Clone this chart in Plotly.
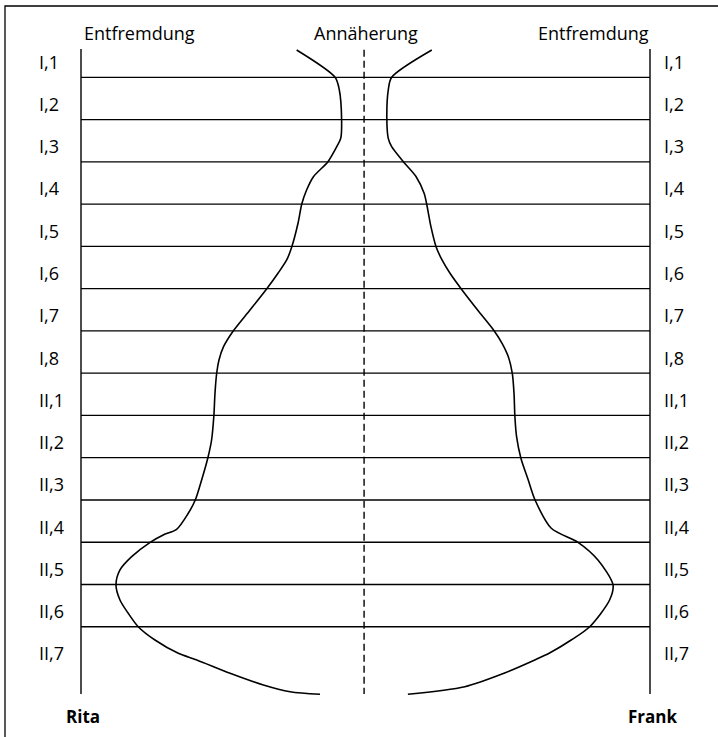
import plotly.graph_objects as go

# Phase labels (rows, top to bottom)
phases = ["I,1", "I,2", "I,3", "I,4", "I,5", "I,6", "I,7", "I,8",
          "II,1", "II,2", "II,3", "II,4", "II,5", "II,6", "II,7"]

# Rita: position (in phase rows) and distance from "Annäherung" (0) towards "Entfremdung" (1)
rita_pos = [-0.277, 0.369, 0.670, 1.363, 1.813, 2.011, 2.366, 2.721, 3.036, 3.367,
            3.817, 4.378, 4.692, 5.000, 5.372, 5.876, 6.372, 6.744, 7.059, 7.366,
            7.840, 8.377, 8.952, 9.371, 9.898, 10.367, 10.686, 11.065, 11.200, 11.373,
            11.713, 12.028, 12.383, 12.738, 13.053, 13.370, 13.685, 14.000, 14.157,
            14.472, 14.749, 14.908, 14.969]
rita_dist = [0.242, 0.107, 0.092, 0.084, 0.087, 0.101, 0.132, 0.183, 0.207, 0.224,
             0.237, 0.259, 0.277, 0.307, 0.347, 0.406, 0.465, 0.499, 0.515, 0.523,
             0.529, 0.533, 0.541, 0.554, 0.576, 0.598, 0.623, 0.664, 0.711, 0.757,
             0.822, 0.863, 0.877, 0.863, 0.834, 0.799, 0.740, 0.658, 0.593,
             0.476, 0.359, 0.265, 0.160]

# Frank
frank_pos = [-0.277, 0.369, 0.670, 1.363, 1.813, 2.011, 2.366, 2.721, 3.114, 3.367,
             3.904, 4.378, 4.692, 5.007, 5.372, 5.876, 6.365, 6.664, 6.981, 7.373,
             7.847, 8.384, 8.874, 9.378, 9.898, 10.372, 11.041, 11.373, 11.791, 12.383,
             12.738, 13.370, 13.685, 13.992, 14.157, 14.465, 14.789, 14.969]
frank_dist = [0.233, 0.092, 0.080, 0.075, 0.080, 0.092, 0.133, 0.178, 0.206, 0.215,
              0.230, 0.248, 0.269, 0.297, 0.336, 0.394, 0.452, 0.480, 0.502, 0.516,
              0.522, 0.525, 0.531, 0.546, 0.572, 0.596, 0.653, 0.747, 0.817, 0.870,
              0.858, 0.788, 0.723, 0.647, 0.595, 0.489, 0.349, 0.149]

header_left = "Entfremdung"
header_mid = "Annäherung"
header_right = "Entfremdung"
name_left = "Rita"
name_right = "Frank"

FONT = "Open Sans"
FS = 18
LW = 1.4

fig = go.Figure()

fig.add_trace(go.Scatter(
    x=[-d for d in rita_dist], y=rita_pos, mode="lines",
    line=dict(color="black", width=1.6, shape="spline", smoothing=0.8),
    hoverinfo="skip", showlegend=False, name=name_left))
fig.add_trace(go.Scatter(
    x=frank_dist, y=frank_pos, mode="lines",
    line=dict(color="black", width=1.6, shape="spline", smoothing=0.8),
    hoverinfo="skip", showlegend=False, name=name_right))

shapes = []
# row separators
for k in range(len(phases) - 1):
    yk = k + 0.37
    shapes.append(dict(type="line", xref="x", yref="y", x0=-1, x1=1, y0=yk, y1=yk,
                       line=dict(color="black", width=LW)))
# outer vertical axes
for xv in (-1, 1):
    shapes.append(dict(type="line", xref="x", yref="y", x0=xv, x1=xv, y0=-0.30, y1=14.96,
                       line=dict(color="black", width=LW)))
# dashed centre line
shapes.append(dict(type="line", xref="x", yref="y", x0=-0.005, x1=-0.005, y0=-0.28, y1=14.96,
                   line=dict(color="black", width=LW, dash="7px,4px")))
# frame (top and left edges visible)
shapes.append(dict(type="rect", xref="paper", yref="paper",
                   x0=5 / 718, x1=1.2, y0=-0.2, y1=1 - 6 / 737,
                   line=dict(color="black", width=1.3)))

annotations = []
for i, p in enumerate(phases):
    annotations.append(dict(x=-1.155, y=i, xref="x", yref="y", text=p, showarrow=False,
                            xanchor="left", yanchor="middle",
                            font=dict(family=FONT, size=FS, color="black")))
    annotations.append(dict(x=1.042, y=i, xref="x", yref="y", text=p, showarrow=False,
                            xanchor="left", yanchor="middle",
                            font=dict(family=FONT, size=FS, color="black")))

annotations.append(dict(x=-0.996, y=-0.679, xref="x", yref="y", text=header_left, showarrow=False,
                        xanchor="left", yanchor="middle", font=dict(family=FONT, size=FS, color="black")))
annotations.append(dict(x=0.0, y=-0.679, xref="x", yref="y", text=header_mid, showarrow=False,
                        xanchor="center", yanchor="middle", font=dict(family=FONT, size=FS, color="black")))
annotations.append(dict(x=1.002, y=-0.679, xref="x", yref="y", text=header_right, showarrow=False,
                        xanchor="right", yanchor="middle", font=dict(family=FONT, size=FS, color="black")))
annotations.append(dict(x=-0.993, y=15.50, xref="x", yref="y", text="<b>" + name_left + "</b>",
                        showarrow=False, xanchor="center", yanchor="middle",
                        font=dict(family=FONT, size=17, color="black")))
annotations.append(dict(x=1.007, y=15.50, xref="x", yref="y", text="<b>" + name_right + "</b>",
                        showarrow=False, xanchor="center", yanchor="middle",
                        font=dict(family=FONT, size=17, color="black")))

fig.update_layout(
    width=718, height=737,
    margin=dict(l=0, r=0, t=0, b=0),
    paper_bgcolor="white", plot_bgcolor="white",
    xaxis=dict(range=[-1.2847, 1.2390], visible=False, fixedrange=True),
    yaxis=dict(range=[15.980, -1.460], visible=False, fixedrange=True),
    shapes=shapes, annotations=annotations, showlegend=False,
)

fig.write_html("out.html", config={"displayModeBar": False},
               post_script="document.body.style.margin='0';document.body.style.overflow='hidden';")
